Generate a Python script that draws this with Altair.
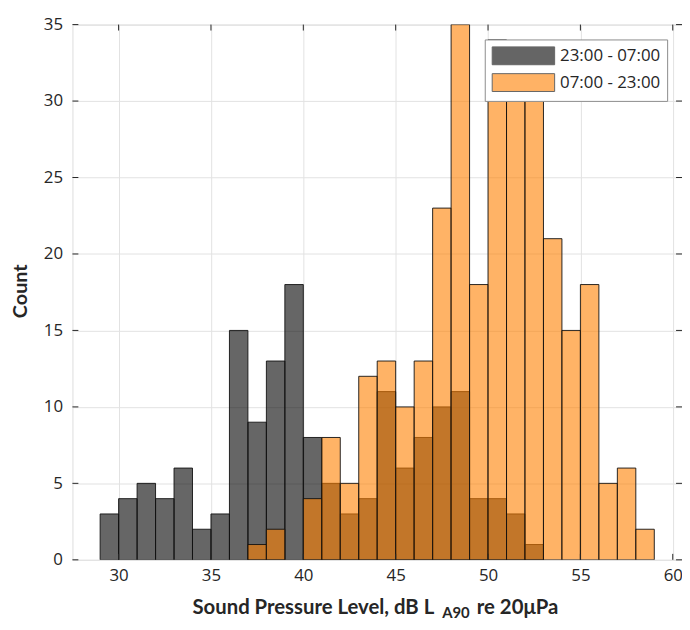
import altair as alt
import pandas as pd

# Histogram bins (left edges, width 1 dB)
night_bins = [29, 30, 31, 32, 33, 34, 35, 36, 37, 38, 39, 40, 41, 42, 43, 44, 45, 46, 47, 48, 49, 50, 51, 52]
night_counts = [3, 4, 5, 4, 6, 2, 3, 15, 9, 13, 18, 8, 5, 3, 4, 11, 6, 8, 10, 11, 4, 4, 3, 1]

day_bins = [37, 38, 40, 41, 42, 43, 44, 45, 46, 47, 48, 49, 50, 51, 52, 53, 54, 55, 56, 57, 58]
day_counts = [1, 2, 4, 8, 5, 12, 13, 10, 13, 23, 35, 18, 34, 30, 32, 21, 15, 18, 5, 6, 2]

series_names = ["23:00 - 07:00", "07:00 - 23:00"]
series_colors = ["#000000", "#ff8000"]

x_ticks = [30, 35, 40, 45, 50, 55, 60]
y_ticks = [0, 5, 10, 15, 20, 25, 30, 35]

W, H = 615, 540
FONT = "Open Sans"
TITLE_FONT = "Lato"
DARK = "#262626"

night = pd.DataFrame({"start": night_bins, "count": night_counts})
night["end"] = night["start"] + 1
night["period"] = series_names[0]
day = pd.DataFrame({"start": day_bins, "count": day_counts})
day["end"] = day["start"] + 1
day["period"] = series_names[1]

xscale = alt.Scale(domain=[27.5, 60.5], nice=False, zero=False)
yscale = alt.Scale(domain=[0, 35], nice=False)
cscale = alt.Scale(domain=series_names, range=series_colors)

X_AXIS = alt.Axis(values=x_ticks, title=None, ticks=False, domain=False,
                  labelFont=FONT, labelFontSize=17, labelColor=DARK,
                  labelPadding=8, grid=True, gridColor="#e2e2e2", labelFlush=False)
Y_AXIS = alt.Axis(values=y_ticks, title=None, ticks=False, domain=False,
                  labelFont=FONT, labelFontSize=17, labelColor=DARK,
                  labelPadding=10, grid=True, gridColor="#e2e2e2")

LEGEND = alt.Legend(
    title=None, orient="none", legendX=416, legendY=15,
    fillColor="white", strokeColor="#8c8c8c", padding=7,
    symbolType="M-1,-1L6,-1L6,1L-1,1Z",
    symbolSize=324, symbolOpacity=0.6,
    symbolStrokeColor="#000000", symbolStrokeWidth=1,
    labelFont=FONT, labelFontSize=17, labelColor=DARK,
    labelOffset=50, rowPadding=4,
)


def bars(df):
    return alt.Chart(df).mark_bar(
        fillOpacity=0.6, stroke="#111111", strokeWidth=0.9, clip=True
    ).encode(
        x=alt.X("start:Q", scale=xscale, axis=X_AXIS),
        x2="end:Q",
        y=alt.Y("count:Q", scale=yscale, stack=None, axis=Y_AXIS),
        y2=alt.datum(0),
        fill=alt.Fill("period:N", scale=cscale, sort=series_names, legend=LEGEND),
    ).transform_filter(alt.datum["count"] > 0)


tick_x = pd.DataFrame({"v": x_ticks})
tick_y = pd.DataFrame({"v": y_ticks})

ticks_bottom = alt.Chart(tick_x).mark_rule(color=DARK, strokeWidth=1).encode(
    x=alt.X("v:Q", scale=xscale, axis=X_AXIS), y=alt.value(H - 6), y2=alt.value(H))
ticks_top = alt.Chart(tick_x).mark_rule(color=DARK, strokeWidth=1).encode(
    x=alt.X("v:Q", scale=xscale, axis=X_AXIS), y=alt.value(0), y2=alt.value(6))
ticks_left = alt.Chart(tick_y).mark_rule(color=DARK, strokeWidth=1).encode(
    y=alt.Y("v:Q", scale=yscale, axis=Y_AXIS), x=alt.value(0), x2=alt.value(6))
ticks_right = alt.Chart(tick_y).mark_rule(color=DARK, strokeWidth=1).encode(
    y=alt.Y("v:Q", scale=yscale, axis=Y_AXIS), x=alt.value(W - 6), x2=alt.value(W))

one = alt.Data(values=[{"a": 1}])
title_main = alt.Chart(one).mark_text(
    text="Sound Pressure Level, dB L", font=TITLE_FONT, fontSize=20.5, fontWeight="bold",
    color=DARK, align="right", baseline="alphabetic").encode(x=alt.value(365), y=alt.value(595))
title_sub = alt.Chart(one).mark_text(
    text="A90", font=TITLE_FONT, fontSize=15, fontWeight="bold",
    color=DARK, align="left", baseline="alphabetic").encode(x=alt.value(373), y=alt.value(599))
title_end = alt.Chart(one).mark_text(
    text="re 20μPa", font=TITLE_FONT, fontSize=20.5, fontWeight="bold",
    color=DARK, align="left", baseline="alphabetic").encode(x=alt.value(408), y=alt.value(595))
title_y = alt.Chart(one).mark_text(
    text="Count", font=TITLE_FONT, fontSize=20, fontWeight="bold", angle=270,
    color=DARK, align="center", baseline="middle").encode(x=alt.value(-52), y=alt.value(269))

chart = alt.layer(
    bars(night), bars(day),
    ticks_bottom, ticks_top, ticks_left, ticks_right,
    title_main, title_sub, title_end, title_y,
).properties(
    width=W, height=H,
    autosize=alt.AutoSizeParams(type="none"),
    padding={"left": 65, "top": 14, "right": 0, "bottom": 60},
).configure_view(
    stroke="#444444", strokeWidth=1
).configure(background="white")

chart.save("out.html", embed_options={"renderer": "svg", "actions": False})
